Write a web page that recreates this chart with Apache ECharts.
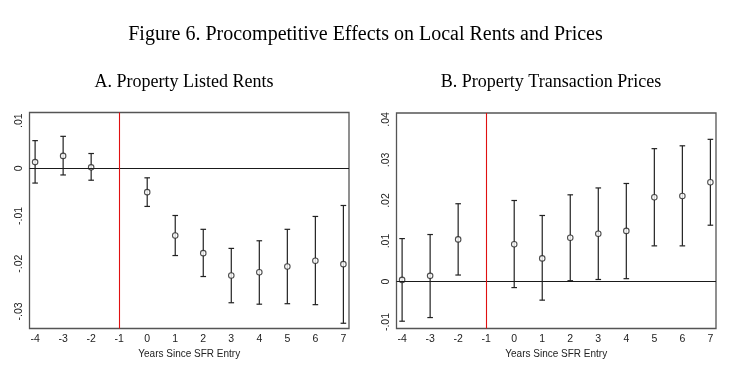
<!DOCTYPE html>
<html>
<head>
<meta charset="utf-8">
<script src="https://cdn.jsdelivr.net/npm/echarts@6/dist/echarts.min.js"></script>
<style>html,body{margin:0;padding:0;background:#fff}#c{width:731px;height:381px}</style>
</head>
<body>
<div id="c"></div>
<script>
// Event-time categories (years since SFR entry)
const years = [-4, -3, -2, 0, 1, 2, 3, 4, 5, 6, 7];
// Panel A: Property listed rents
const rentsEst   = [0.0013, 0.0026, 0.0002, -0.0050, -0.0141, -0.0178, -0.0225, -0.0218, -0.0206, -0.0194, -0.0201];
const rentsLower = [-0.0031, -0.0014, -0.0025, -0.0080, -0.0183, -0.0227, -0.0282, -0.0285, -0.0284, -0.0286, -0.0325];
const rentsUpper = [0.0058, 0.0067, 0.0031, -0.0020, -0.0099, -0.0128, -0.0168, -0.0152, -0.0128, -0.0101, -0.0078];
// Panel B: Property transaction prices
const pricesEst   = [0.0004, 0.0014, 0.0104, 0.0092, 0.0057, 0.0108, 0.0118, 0.0125, 0.0208, 0.0211, 0.0245];
const pricesLower = [-0.0098, -0.0089, 0.0016, -0.0015, -0.0046, 0.0002, 0.0005, 0.0007, 0.0088, 0.0088, 0.0139];
const pricesUpper = [0.0106, 0.0116, 0.0192, 0.0200, 0.0163, 0.0214, 0.0231, 0.0242, 0.0328, 0.0335, 0.0351];
// Axis ticks
const xTicks = [-4, -3, -2, -1, 0, 1, 2, 3, 4, 5, 6, 7];
const yTicksA = [-0.03, -0.02, -0.01, 0, 0.01];
const yTicksB = [-0.01, 0, 0.01, 0.02, 0.03, 0.04];
const entryYear = -1;

const fmt = v => {
  const r = Math.round(v * 100);
  if (r === 0) return '0';
  return (r < 0 ? '-' : '') + '.0' + Math.abs(r);
};
const sans = 'Liberation Sans, Arial, sans-serif';
const serif = 'Liberation Serif, Times New Roman, serif';

function xAxis(gi) {
  return {
    type: 'value', gridIndex: gi, min: -4.2, max: 7.2,
    name: 'Years Since SFR Entry', nameLocation: 'middle', nameGap: 20,
    nameTextStyle: {fontFamily: sans, fontSize: 10, color: '#222'},
    axisLine: {show: false}, axisTick: {show: false}, splitLine: {show: false},
    axisLabel: {customValues: xTicks, fontFamily: sans, fontSize: 10.5, color: '#222', margin: 5}
  };
}
function yAxis(gi, mn, mx, ticks) {
  return {
    type: 'value', gridIndex: gi, min: mn, max: mx,
    axisLine: {show: false}, axisTick: {show: false}, splitLine: {show: false},
    axisLabel: {customValues: ticks, formatter: fmt, rotate: 90, fontFamily: sans, fontSize: 10.5, color: '#222', margin: 5}
  };
}
function errSeries(gi, lo, hi) {
  return {
    type: 'custom', xAxisIndex: gi, yAxisIndex: gi,
    data: years.map((x, i) => [x, lo[i], hi[i]]),
    renderItem: (params, api) => {
      const x = api.value(0);
      const p1 = api.coord([x, api.value(1)]);
      const p2 = api.coord([x, api.value(2)]);
      const w = 2.8;
      const st = {stroke: '#222', lineWidth: 1.2};
      return {type: 'group', children: [
        {type: 'line', shape: {x1: p1[0], y1: p1[1], x2: p2[0], y2: p2[1]}, style: st},
        {type: 'line', shape: {x1: p1[0] - w, y1: p1[1], x2: p1[0] + w, y2: p1[1]}, style: st},
        {type: 'line', shape: {x1: p2[0] - w, y1: p2[1], x2: p2[0] + w, y2: p2[1]}, style: st}
      ]};
    },
    silent: true, z: 3
  };
}
function ptSeries(gi, est) {
  return {
    type: 'scatter', xAxisIndex: gi, yAxisIndex: gi,
    data: years.map((x, i) => [x, est[i]]),
    symbol: 'circle', symbolSize: 5.5,
    itemStyle: {color: '#fff', borderColor: '#222', borderWidth: 1.1},
    z: 4, silent: true,
    markLine: {
      silent: true, symbol: 'none', label: {show: false}, animation: false,
      data: [
        {yAxis: 0, lineStyle: {color: '#1a1a1a', width: 1.1, type: 'solid'}},
        {xAxis: entryYear, lineStyle: {color: '#e01010', width: 1.1, type: 'solid'}}
      ]
    }
  };
}

const chart = echarts.init(document.getElementById('c'), null, {renderer: 'canvas'});
chart.setOption({
  animation: false,
  backgroundColor: '#fff',
  title: [
    {text: 'Figure 6. Procompetitive Effects on Local Rents and Prices', left: 'center', top: 20,
     textStyle: {fontFamily: serif, fontSize: 20, fontWeight: 'normal', color: '#000'}},
    {text: 'A. Property Listed Rents', left: 179, top: 68, textAlign: 'center',
     textStyle: {fontFamily: serif, fontSize: 18, fontWeight: 'normal', color: '#000'}},
    {text: 'B. Property Transaction Prices', left: 546, top: 68, textAlign: 'center',
     textStyle: {fontFamily: serif, fontSize: 18, fontWeight: 'normal', color: '#000'}}
  ],
  grid: [
    {left: 29.5, right: 382, top: 112.5, bottom: 52.5, show: true, borderColor: '#555', borderWidth: 1.3, backgroundColor: 'transparent'},
    {left: 396.5, right: 15, top: 113, bottom: 52.5, show: true, borderColor: '#555', borderWidth: 1.3, backgroundColor: 'transparent'}
  ],
  xAxis: [xAxis(0), xAxis(1)],
  yAxis: [yAxis(0, -0.0336, 0.0117, yTicksA), yAxis(1, -0.0116, 0.0416, yTicksB)],
  series: [errSeries(0, rentsLower, rentsUpper), ptSeries(0, rentsEst),
           errSeries(1, pricesLower, pricesUpper), ptSeries(1, pricesEst)]
});
</script>
</body>
</html>
